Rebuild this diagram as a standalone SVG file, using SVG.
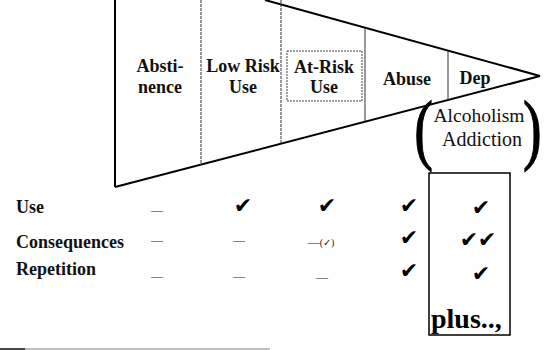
<svg xmlns="http://www.w3.org/2000/svg" width="556" height="350" viewBox="0 0 556 350">
<style>
.lab{font-family:"Liberation Serif","Times New Roman",serif;font-weight:bold;font-size:18px;fill:#111;text-anchor:middle}
.row{font-family:"Liberation Serif","Times New Roman",serif;font-weight:bold;font-size:18px;fill:#111}
.reg{font-family:"Liberation Serif","Times New Roman",serif;fill:#111;text-anchor:middle}
.par{font-family:"Liberation Serif","Times New Roman",serif;fill:#000;stroke:#000;stroke-width:1.2;font-size:78px}
.chk{font-family:"DejaVu Sans",sans-serif;font-size:22px;fill:#000;text-anchor:middle}
.dash{font-family:"Liberation Serif",serif;font-size:12px;fill:#222;text-anchor:middle}
.edge{stroke:#000;stroke-width:2;fill:none}
.div{stroke:#333;stroke-width:1;fill:none}
</style>
<rect width="556" height="350" fill="#fff"/>
<g id="connectors">
<line class="edge" x1="115" y1="0" x2="115" y2="187"/>
<line class="edge" x1="265" y1="0" x2="540" y2="76"/>
<line class="edge" x1="115" y1="187" x2="540" y2="76"/>
<line class="div" x1="201" y1="0" x2="201" y2="165" stroke-dasharray="3,1"/>
<line class="div" x1="281" y1="0" x2="281" y2="143" stroke-dasharray="3,1"/>
<line class="div" x1="365" y1="28" x2="365" y2="121"/>
<line class="div" x1="448" y1="51" x2="448" y2="100"/>
<line x1="0" y1="349" x2="270" y2="349" stroke="#aaa" stroke-width="1.5"/>
<line x1="0" y1="349" x2="25" y2="349" stroke="#222" stroke-width="1.5"/>
</g>
<g id="abstinence">
<text class="lab" x="160" y="72">Absti-</text>
<text class="lab" x="160" y="93">nence</text>
</g>
<g id="lowrisk">
<text class="lab" x="243" y="72">Low Risk</text>
<text class="lab" x="243" y="93">Use</text>
</g>
<g id="atrisk">
<rect x="287" y="51" width="75" height="50" fill="none" stroke="#444" stroke-width="1" stroke-dasharray="2,1"/>
<text class="lab" x="324" y="73">At-Risk</text>
<text class="lab" x="324" y="93">Use</text>
</g>
<g id="abuse">
<text class="lab" x="407" y="85">Abuse</text>
</g>
<g id="dep">
<text class="lab" x="475" y="84">Dep</text>
</g>
<g id="alcoholism">
<text class="par" transform="translate(433,155) scale(0.72,1)" text-anchor="end">(</text>
<text class="par" transform="translate(523,155) scale(0.72,1)">)</text>
<text class="reg" x="479" y="122" font-size="19.5">Alcoholism</text>
<text class="reg" x="482" y="146" font-size="20">Addiction</text>
</g>
<g id="rows">
<text class="row" x="16" y="213">Use</text>
<text class="row" x="16" y="248">Consequences</text>
<text class="row" x="16" y="275">Repetition</text>
</g>
<g id="col-abstinence">
<text class="dash" x="157" y="214">—</text>
<text class="dash" x="157" y="244">—</text>
<text class="dash" x="157" y="280">—</text>
</g>
<g id="col-lowrisk">
<text class="chk" x="243" y="213">✔</text>
<text class="dash" x="239" y="244">—</text>
<text class="dash" x="239" y="280">—</text>
</g>
<g id="col-atrisk">
<text class="chk" x="327" y="213">✔</text>
<text class="dash" x="321" y="246">—<tspan font-size="10">(✓)</tspan></text>
<text class="dash" x="322" y="281">—</text>
</g>
<g id="col-abuse">
<text class="chk" x="409" y="213">✔</text>
<text class="chk" x="409" y="245">✔</text>
<text class="chk" x="409" y="278">✔</text>
</g>
<g id="col-dep">
<rect x="429" y="173" width="81" height="162" fill="none" stroke="#000" stroke-width="1.5"/>
<text class="chk" x="481" y="215">✔</text>
<text class="chk" x="469" y="247">✔</text>
<text class="chk" x="487" y="247">✔</text>
<text class="chk" x="481" y="281">✔</text>
<text x="431" y="328" font-family="Liberation Serif,'Times New Roman',serif" font-weight="bold" font-size="28" fill="#000">plus..,</text>
</g>
</svg>
